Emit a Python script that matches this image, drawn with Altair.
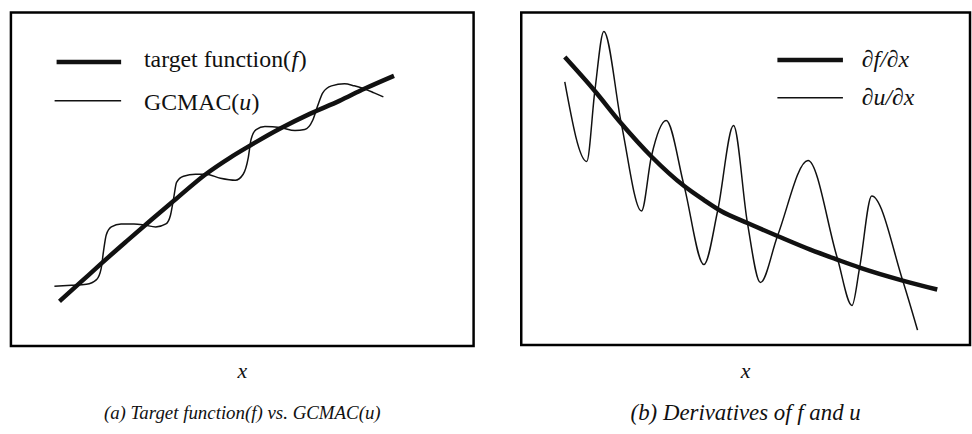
import altair as alt
import pandas as pd

# ---- panel (a): target function f and the GCMAC approximation u ----
a_f_x = [1.05, 1.52, 1.95, 2.49, 3.03, 3.56, 4.21, 4.74, 5.17, 5.82, 6.46, 7.10, 7.64, 8.28]
a_f_y = [1.34, 1.93, 2.47, 3.13, 3.78, 4.40, 5.15, 5.65, 6.01, 6.52, 6.96, 7.35, 7.71, 8.10]

a_u_x = [0.94, 1.31, 1.63, 1.85, 1.95, 2.00, 2.06, 2.17, 2.38, 2.66,
         2.88, 3.13, 3.35, 3.45, 3.52, 3.58, 3.73, 3.99, 4.21, 4.53,
         4.85, 5.02, 5.13, 5.19, 5.30, 5.49, 5.82, 6.14, 6.35, 6.52,
         6.63, 6.74, 6.93, 7.21, 7.42, 7.64, 7.85, 8.05]
a_u_y = [1.79, 1.82, 1.85, 1.99, 2.32, 2.83, 3.33, 3.57, 3.66, 3.66,
         3.63, 3.57, 3.66, 3.93, 4.46, 4.91, 5.09, 5.15, 5.15, 5.03,
         4.97, 5.15, 5.65, 6.19, 6.49, 6.58, 6.55, 6.46, 6.49, 6.76,
         7.20, 7.59, 7.80, 7.86, 7.80, 7.71, 7.59, 7.47]

# ---- panel (b): derivatives df/dx and du/dx ----
b_f_x = [0.97, 1.64, 2.23, 2.90, 3.63, 4.07, 4.45, 5.04, 5.71, 6.44, 7.04, 7.54, 8.50, 9.27]
b_f_y = [8.66, 7.64, 6.66, 5.67, 4.78, 4.36, 4.03, 3.67, 3.28, 2.87, 2.57, 2.33, 1.94, 1.67]

b_u_x = [0.97, 1.46, 1.64, 1.84, 2.23, 2.68, 2.90, 3.23, 3.63, 4.07, 4.38,
         4.73, 5.04, 5.33, 5.71, 6.39, 7.04, 7.37, 7.54, 7.81, 8.50, 8.83]
b_u_y = [7.91, 5.52, 7.64, 9.43, 6.66, 4.03, 5.67, 6.75, 4.78, 2.42, 4.06,
         6.60, 3.67, 1.88, 3.28, 5.55, 2.63, 1.19, 2.33, 4.48, 1.94, 0.45]

FONT = "Liberation Serif"
INK = "#111111"
THICK = 4.5
THIN = 1.5

sx = alt.Scale(domain=[0, 10], nice=False, zero=False)
sy = alt.Scale(domain=[0, 10], nice=False, zero=False)


def curve(xs, ys, width):
    df = pd.DataFrame({"x": xs, "y": ys})
    return alt.Chart(df).mark_line(
        color=INK, strokeWidth=width, interpolate="monotone", strokeCap="butt"
    ).encode(
        x=alt.X("x:Q", scale=sx, axis=None),
        y=alt.Y("y:Q", scale=sy, axis=None),
    )


def key_line(x0, x1, y, width):
    return alt.Chart(pd.DataFrame({"k": [0]})).mark_rule(
        color=INK, strokeWidth=width
    ).encode(x=alt.value(x0), x2=alt.value(x1), y=alt.value(y))


def label(text, x, y, size, style="normal", align="left", baseline="middle"):
    return alt.Chart(pd.DataFrame({"t": [text]})).mark_text(
        font=FONT, fontSize=size, fontStyle=style, align=align,
        baseline=baseline, color=INK
    ).encode(text="t:N", x=alt.value(x), y=alt.value(y))


# left panel
WA, HA = 466, 336
LEG = 24
panel_a = alt.layer(
    curve(a_f_x, a_f_y, THICK),
    curve(a_u_x, a_u_y, THIN),
    key_line(46, 111, 50, THICK),
    key_line(44, 111, 89, THIN),
    label("target function(", 134, 48, LEG),
    label("f", 134 + 148.6, 48, LEG, "italic"),
    label(")", 134 + 148.6 + 7.2, 48, LEG),
    label("GCMAC(", 134, 91, LEG),
    label("u", 134 + 96, 91, LEG, "italic"),
    label(")", 134 + 96 + 12.2, 91, LEG),
    label("x", WA / 2, HA + 25, 22, "italic", "center"),
    label("(a) Target function(f) vs. GCMAC(u)", WA / 2, HA + 67, 19, "italic", "center"),
).properties(width=WA, height=HA)

# right panel
WB, HB = 452, 335
panel_b = alt.layer(
    curve(b_f_x, b_f_y, THICK),
    curve(b_u_x, b_u_y, THIN),
    key_line(258, 324, 48, THICK),
    key_line(258, 324, 86, THIN),
    label("\u2202f/\u2202x", 343, 48, LEG, "italic"),
    label("\u2202u/\u2202x", 343, 86, LEG, "italic"),
    label("x", WB / 2, HB + 26, 22, "italic", "center"),
    label("(b) Derivatives of f and u", WB / 2, HB + 68, 23, "italic", "center"),
).properties(width=WB, height=HB)

chart = alt.hconcat(panel_a, panel_b, spacing=44).properties(
    padding={"left": 9, "top": 9, "right": 0, "bottom": 0},
    background="white",
).configure_view(stroke="black", strokeWidth=2.5)

chart.save("out.html", embed_options={"renderer": "svg", "actions": False})
